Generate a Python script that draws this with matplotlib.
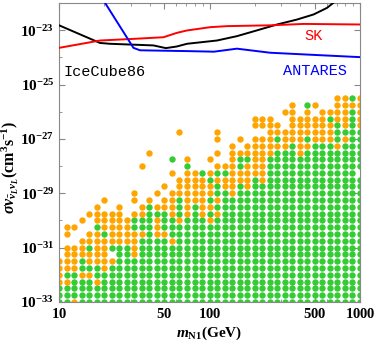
import numpy as np
import matplotlib
matplotlib.use("Agg")
from matplotlib import pyplot as plt
from matplotlib.ticker import FixedLocator, FixedFormatter, NullFormatter

plt.rcParams['mathtext.fontset'] = 'custom'
plt.rcParams['mathtext.rm'] = 'Liberation Serif:bold'
plt.rcParams['mathtext.it'] = 'Liberation Serif:italic:bold'
plt.rcParams['mathtext.bf'] = 'Liberation Serif:bold'

# scan grid: 41 masses (10..1000 GeV), 31 cross sections (1e-33..10^-25.5)
mass_grid = np.logspace(1, 3, 41)
sigma_grid = np.logspace(-33, -25.5, 31)

# o = orange, g = green, . = no point ; first string is the top row
dot_grid = [
    ".....................................oogo",
    "...............................o.go..oooo",
    "..............................oo.o.oooogo",
    "..........................ooo..ooooogoogo",
    "..........................oooo.oooooogogo",
    "................o....o......ooooooooogggg",
    ".....................o..o.ooogooogooogogg",
    ".......................o.oooooogoogggoggg",
    "............o........o.ooooooggg" + "o" + "gggggggg",
    "...............g.o..o..oggoo" + "g" * 13,
    "...........o.....g...ooogooo" + "g" * 13,
    "...............o.oogoggooooo" + "g" * 12,
    "................oooogooooogo" + "g" * 13,
    "..............o.ooooogoogo" + "g" * 15,
    "..........o..o.ooooooggo" + "g" * 17,
    "......o...o.o.oogooogo" + "g" * 19,
    ".....o..o..ogooogogoo" + "g" * 20,
    "....ooooo.oogggogogogo" + "g" * 19,
    "...o.ooooogggoggoggg" + "o" + "g" * 20,
    ".oo..goooogggo" + "g" * 27,
    ".o..oogooooogoo" + "g" * 26,
    "...oooooooogggg" + "o" + "g" * 25,
    ".ooogooggg" + "o" + "g" * 30,
    ".oooooo.ggo" + "g" * 30,
    "ooogoooo" + "g" * 33,
    "ooogggo" + "g" * 34,
    "oggoo" + "g" * 36,
    "ooggg" + "o" + "g" * 35,
    "g" * 41,
    "g" * 41,
    "ggo" + "g" * 38,
]

# IceCube86 limit
icecube_m = [10, 18.7, 21.8, 42.4, 51.2, 60.5, 70.8, 112, 152, 197, 281, 380, 492, 603, 680]
icecube_s = [1.51e-23, 3.39e-24, 3.16e-24, 2.75e-24, 2.19e-24, 2.51e-24, 3.16e-24, 4.17e-24,
             6.03e-24, 9.12e-24, 1.62e-23, 2.45e-23, 3.8e-23, 6.6e-23, 1.12e-22]
# Super-Kamiokande limit
sk_m = [10, 18.7, 31.2, 49.4, 60.5, 70.8, 101, 131, 253, 423, 1000]
sk_s = [2.24e-24, 4.17e-24, 4.79e-24, 5.5e-24, 7.94e-24, 9.77e-24, 1.29e-23, 1.41e-23,
        1.51e-23, 1.7e-23, 1.62e-23]
# ANTARES limit
antares_m = [19.2, 31.2, 34.5, 70.8, 107, 152, 253, 545, 1000]
antares_s = [1.58e-22, 2.24e-24, 1.82e-24, 1.7e-24, 1.62e-24, 2.09e-24, 1.48e-24, 1.2e-24, 1.02e-24]

fig = plt.figure(figsize=(3.74, 3.45), dpi=100)
ax = fig.add_axes([0.158, 0.1246, 0.8046, 0.8667])

colors = {'g': '#33cc33', 'o': '#ffa500'}
for key in ('g', 'o'):
    xs, ys = [], []
    for row, line in enumerate(dot_grid):
        j = len(dot_grid) - 1 - row
        for i, c in enumerate(line):
            if c == key:
                xs.append(mass_grid[i])
                ys.append(sigma_grid[j])
    ax.plot(xs, ys, 'o', color=colors[key], markersize=4.6, markeredgewidth=0, zorder=2)

ax.plot(icecube_m, icecube_s, color='black', lw=1.4, zorder=3)
ax.plot(sk_m, sk_s, color='#ff0000', lw=1.4, zorder=3)
ax.plot(antares_m, antares_s, color='#0000ff', lw=1.4, zorder=3)

ax.set_xscale('log')
ax.set_yscale('log')
ax.set_xlim(10, 1000)
ax.set_ylim(1e-33, 1e-22)

mono = ['Liberation Mono', 'DejaVu Sans Mono']
ax.text(0.151, 0.769, 'IceCube86', transform=ax.transAxes, ha='center', va='center',
        fontsize=11, family=mono, color='black')
ax.text(0.847, 0.888, 'SK', transform=ax.transAxes, ha='center', va='center',
        fontsize=11, family=mono, color='#ff0000')
ax.text(0.849, 0.773, 'ANTARES', transform=ax.transAxes, ha='center', va='center',
        fontsize=11, family=mono, color='#0000ff')

xt = [10, 50, 100, 500, 1000]
ax.xaxis.set_major_locator(FixedLocator(xt))
ax.xaxis.set_major_formatter(FixedFormatter([r'$\mathbf{%d}$' % v for v in xt]))
ax.xaxis.set_minor_locator(FixedLocator([20, 30, 40, 60, 70, 80, 90, 200, 300, 400, 600, 700, 800, 900]))
ax.xaxis.set_minor_formatter(NullFormatter())

yexp = [-33, -31, -29, -27, -25, -23]
ax.yaxis.set_major_locator(FixedLocator([10.0 ** e for e in yexp]))
ax.yaxis.set_major_formatter(FixedFormatter([r'$\mathbf{10^{%d}}$' % e for e in yexp]))
ax.yaxis.set_minor_locator(FixedLocator([10.0 ** e for e in range(-32, -21, 2)]))
ax.yaxis.set_minor_formatter(NullFormatter())

for s in ax.spines.values():
    s.set_color('#888888')
ax.tick_params(which='both', direction='in', top=True, right=True, colors='#888888',
               labelcolor='black')
ax.tick_params(axis='y', labelsize=11)
ax.tick_params(axis='x', labelsize=10.5, pad=3)
ax.tick_params(which='major', length=4)
ax.tick_params(which='minor', length=2.5)

ax.set_xlabel(r'$m_{\rm N1}\mathbf{(GeV)}$', fontsize=11)
ax.xaxis.set_label_coords(0.5, -0.075)
ax.set_ylabel(r'$\sigma v_{\bar{\nu}_L \nu_L}\mathbf{(cm^3 s^{-1})}$', fontsize=11.5)
ax.yaxis.set_label_coords(-0.125, 0.45)

fig.savefig('out.png', dpi=100)
